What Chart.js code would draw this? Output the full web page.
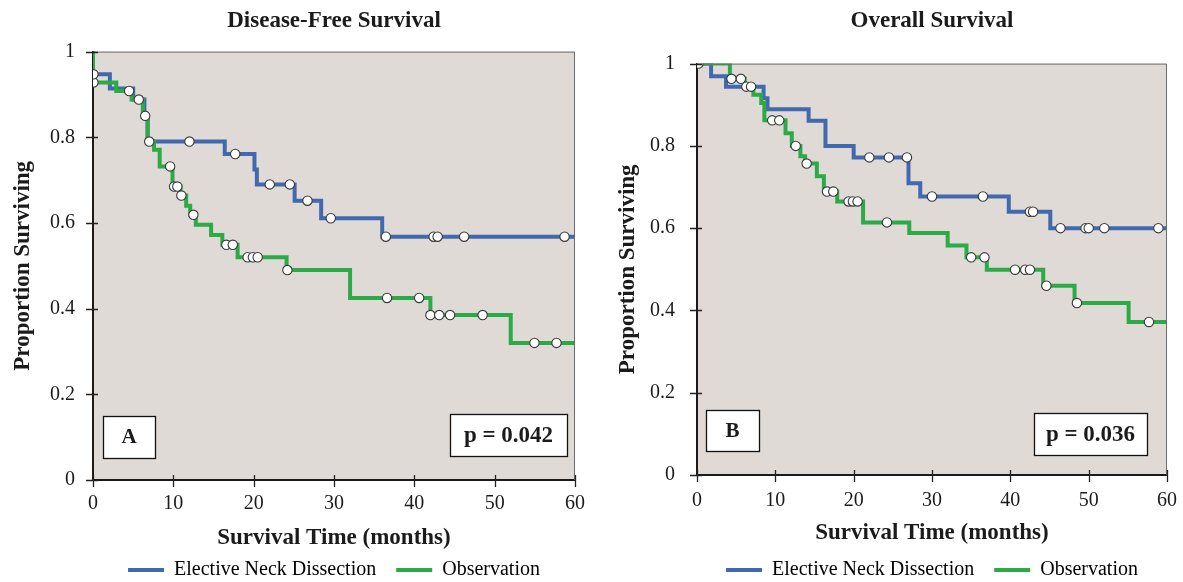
<!DOCTYPE html>
<html><head><meta charset="utf-8">
<script src="https://cdn.jsdelivr.net/npm/chart.js@4.4.1/dist/chart.umd.min.js"></script>
<style>
html,body{margin:0;padding:0;background:#fff;}
#wrap{position:relative;width:1183px;height:582px;overflow:hidden;}
canvas{position:absolute;top:0;}
</style></head><body>
<div id="wrap">
<canvas id="cA" width="590" height="582" style="left:0"></canvas>
<canvas id="cB" width="593" height="582" style="left:590px"></canvas>
</div>
<script>
// ---------- DATA ----------
const seriesNames = ['Elective Neck Dissection', 'Observation'];
const xTicks = [0, 10, 20, 30, 40, 50, 60];
const yTicks = [0, 0.2, 0.4, 0.6, 0.8, 1];

// Panel A: Disease-Free Survival
const dfsEndTimes = [0, 0, 2.1, 5.0, 6.4, 6.8, 16.4, 20.1, 20.4, 25.1, 28.4, 36.0, 60];
const dfsEndSurv  = [1, 0.947, 0.914, 0.888, 0.85, 0.79, 0.761, 0.725, 0.69, 0.652, 0.611, 0.568, 0.568];
const dfsObsTimes = [0, 0, 2.9, 4.8, 6.2, 6.8, 7.6, 8.3, 9.9, 10.9, 11.6, 12.1, 12.8, 14.7, 16.1, 18.0, 24.1, 32.0, 42.0, 52.0, 60];
const dfsObsSurv  = [1, 0.928, 0.908, 0.888, 0.848, 0.79, 0.771, 0.732, 0.685, 0.664, 0.64, 0.619, 0.596, 0.572, 0.549, 0.52, 0.49, 0.425, 0.385, 0.32, 0.32];
const dfsEndCensor = [0.05, 5.7, 6.5, 12.0, 17.7, 22.0, 24.5, 26.7, 29.6, 36.45, 42.4, 42.9, 46.2, 58.7];
const dfsObsCensor = [0.05, 4.5, 7.0, 9.6, 10.1, 10.5, 11.0, 12.5, 16.6, 17.4, 19.25, 19.9, 20.5, 24.2, 36.6, 40.6, 42.0, 43.1, 44.45, 48.5, 54.95, 57.7];

// Panel B: Overall Survival
const osEndTimes = [0, 1.8, 3.7, 8.5, 9.0, 14.25, 16.4, 20.0, 27.0, 28.5, 39.8, 45.1, 60];
const osEndSurv  = [1, 0.969, 0.944, 0.916, 0.889, 0.861, 0.80, 0.772, 0.709, 0.677, 0.64, 0.60, 0.60];
const osObsTimes = [0, 4.2, 6.1, 7.2, 8.2, 8.6, 11.3, 12.1, 13.2, 13.8, 15.3, 16.2, 17.9, 21.2, 27.1, 32.0, 34.4, 37.0, 44.2, 48.2, 55.1, 60];
const osObsSurv  = [1, 0.963, 0.944, 0.924, 0.904, 0.862, 0.831, 0.80, 0.775, 0.757, 0.726, 0.689, 0.665, 0.614, 0.588, 0.558, 0.529, 0.499, 0.46, 0.418, 0.372, 0.372];
const osEndCensor = [0.2, 22.0, 24.5, 26.8, 30.0, 36.5, 42.5, 42.9, 46.4, 49.6, 50.0, 52.0, 58.9];
const osObsCensor = [4.4, 5.6, 6.3, 6.9, 9.6, 10.5, 12.6, 14.0, 16.6, 17.4, 19.35, 19.9, 20.5, 24.25, 35.0, 36.7, 40.6, 41.9, 42.5, 44.6, 48.5, 57.7];

// ---------- STYLE ----------
const BLUE = '#4169AE';
const GREEN = '#2BAA45';
const PLOT_BG = '#DFDAD6';
const SERIF = '"Liberation Serif", "Times New Roman", serif';
const TXT = '#1b1b1b';

function steps(times, surv) { return times.map((t, i) => ({x: t, y: surv[i]})); }
function survAt(times, surv, t) {
  let s = surv[0];
  for (let i = 0; i < times.length; i++) { if (times[i] <= t) s = surv[i]; }
  return s;
}
function censors(ct, times, surv) { return ct.map(t => ({x: t, y: survAt(times, surv, t)})); }

const decor = {
  id: 'decor',
  beforeDraw(chart) {
    const {ctx, chartArea: a} = chart;
    ctx.save();
    ctx.fillStyle = PLOT_BG;
    ctx.fillRect(a.left, a.top, a.right - a.left, a.bottom - a.top);
    ctx.restore();
  },
  afterDraw(chart, args, opts) {
    const {ctx, chartArea: a, scales: {x, y}} = chart;
    ctx.save();
    ctx.strokeStyle = '#6b6b6b'; ctx.lineWidth = 1;
    ctx.beginPath();
    ctx.moveTo(a.left, a.top + 0.5); ctx.lineTo(a.right - 0.5, a.top + 0.5); ctx.lineTo(a.right - 0.5, a.bottom);
    ctx.stroke();
    ctx.strokeStyle = '#222'; ctx.lineWidth = 1.3;
    ctx.beginPath();
    xTicks.forEach(v => { const px = Math.round(x.getPixelForValue(v)) + 0.5; ctx.moveTo(px, a.bottom - 5); ctx.lineTo(px, a.bottom + 7); });
    yTicks.forEach(v => { const py = Math.round(y.getPixelForValue(v)) + 0.5; ctx.moveTo(a.left - 7, py); ctx.lineTo(a.left + 5, py); });
    ctx.stroke();
    (opts.boxes || []).forEach(b => {
      const left = b.fromRight !== undefined ? a.right - b.fromRight - b.w : a.left + b.fromLeft;
      const top = a.bottom - b.fromBottom;
      ctx.fillStyle = '#fff';
      ctx.fillRect(left, top, b.w, b.h);
      ctx.strokeStyle = '#111'; ctx.lineWidth = 1.3;
      ctx.strokeRect(left + 0.5, top + 0.5, b.w, b.h);
      ctx.fillStyle = TXT;
      ctx.font = 'bold ' + b.size + 'px ' + SERIF;
      ctx.textAlign = 'center'; ctx.textBaseline = 'middle';
      ctx.fillText(b.text, left + b.w / 2, top + b.h / 2 + 1);
    });
    ctx.restore();
  }
};

function makeChart(id, title, endLine, obsLine, endCens, obsCens, cfg) {
  const lineDs = (label, data, color, order) => ({
    type: 'line', label, data, borderColor: color, backgroundColor: color,
    borderWidth: 4, stepped: 'before', pointRadius: 0, fill: false, order,
    borderCapStyle: 'butt', borderJoinStyle: 'miter'
  });
  const censDs = (data) => ({
    type: 'scatter', label: 'censored', data, showLine: false,
    pointRadius: 4.7, pointBackgroundColor: '#ffffff', pointBorderColor: '#3a3a3a',
    pointBorderWidth: 1.1, order: 1
  });
  return new Chart(document.getElementById(id), {
    type: 'line',
    data: {
      datasets: [
        censDs(endCens), censDs(obsCens),
        lineDs(seriesNames[0], endLine, BLUE, 3),
        lineDs(seriesNames[1], obsLine, GREEN, 2)
      ]
    },
    options: {
      responsive: false, animation: false,
      layout: {padding: cfg.pad},
      plugins: {
        tooltip: {enabled: false},
        title: {
          display: true, text: title, color: TXT, fullSize: false,
          font: {family: SERIF, size: 23, weight: 'bold'},
          padding: {top: cfg.titleTop, bottom: cfg.titleBottom}
        },
        legend: {
          display: true, position: 'bottom', fullSize: false,
          labels: {
            boxWidth: 36, boxHeight: 4, padding: 20, color: TXT,
            font: {family: SERIF, size: 20},
            generateLabels: (chart) => chart.data.datasets.map((d, i) => ({
              text: d.label, fillStyle: d.borderColor, strokeStyle: d.borderColor, lineWidth: 0, datasetIndex: i, hidden: false
            })).filter(it => it.text !== 'censored')
          }
        },
        decor: {boxes: cfg.boxes}
      },
      scales: {
        x: {
          type: 'linear', min: 0, max: 60,
          afterBuildTicks: (s) => { s.ticks = xTicks.map(v => ({value: v})); },
          afterFit: (s) => { s.height = cfg.xH; },
          grid: {display: false},
          border: {display: true, color: '#1a1a1a', width: 2},
          ticks: {color: TXT, font: {family: SERIF, size: 20}, padding: cfg.xTickPad, maxRotation: 0},
          title: {display: true, text: 'Survival Time (months)', color: TXT, font: {family: SERIF, size: 23, weight: 'bold'}, padding: {top: 4, bottom: cfg.xTitleBottom}}
        },
        y: {
          type: 'linear', min: 0, max: 1,
          afterBuildTicks: (s) => { s.ticks = yTicks.map(v => ({value: v})); },
          afterFit: (s) => { s.width = cfg.yW; },
          grid: {display: false},
          border: {display: true, color: '#1a1a1a', width: 2},
          ticks: {color: TXT, font: {family: SERIF, size: 20}, padding: cfg.yTickPad, callback: (v) => String(v)},
          title: {display: true, text: 'Proportion Surviving', color: TXT, font: {family: SERIF, size: 23, weight: 'bold'}, padding: {top: 4, bottom: 4}}
        }
      }
    },
    plugins: [decor]
  });
}

makeChart('cA', 'Disease-Free Survival',
  steps(dfsEndTimes, dfsEndSurv), steps(dfsObsTimes, dfsObsSurv),
  censors(dfsEndCensor, dfsEndTimes, dfsEndSurv), censors(dfsObsCensor, dfsObsTimes, dfsObsSurv),
  {
    pad: {left: 5, right: 15, top: 0, bottom: -8},
    titleTop: 7, titleBottom: 17, yW: 88, xH: 60, xTickPad: 4, xTitleBottom: -12, yTickPad: 10,
    boxes: [
      {text: 'A', fromLeft: 10, fromBottom: 64, w: 52, h: 42, size: 21},
      {text: 'p = 0.042', fromRight: 8, fromBottom: 66, w: 117, h: 42, size: 23}
    ]
  });

makeChart('cB', 'Overall Survival',
  steps(osEndTimes, osEndSurv), steps(osObsTimes, osObsSurv),
  censors(osEndCensor, osEndTimes, osEndSurv), censors(osObsCensor, osObsTimes, osObsSurv),
  {
    pad: {left: 20, right: 16, top: 0, bottom: -8},
    titleTop: 7, titleBottom: 29, yW: 87, xH: 65, xTickPad: 6, xTitleBottom: -7, yTickPad: 14,
    boxes: [
      {text: 'B', fromLeft: 9, fromBottom: 65, w: 53, h: 41, size: 21},
      {text: 'p = 0.036', fromRight: 20, fromBottom: 62, w: 113, h: 42, size: 23}
    ]
  });
</script>
</body></html>
